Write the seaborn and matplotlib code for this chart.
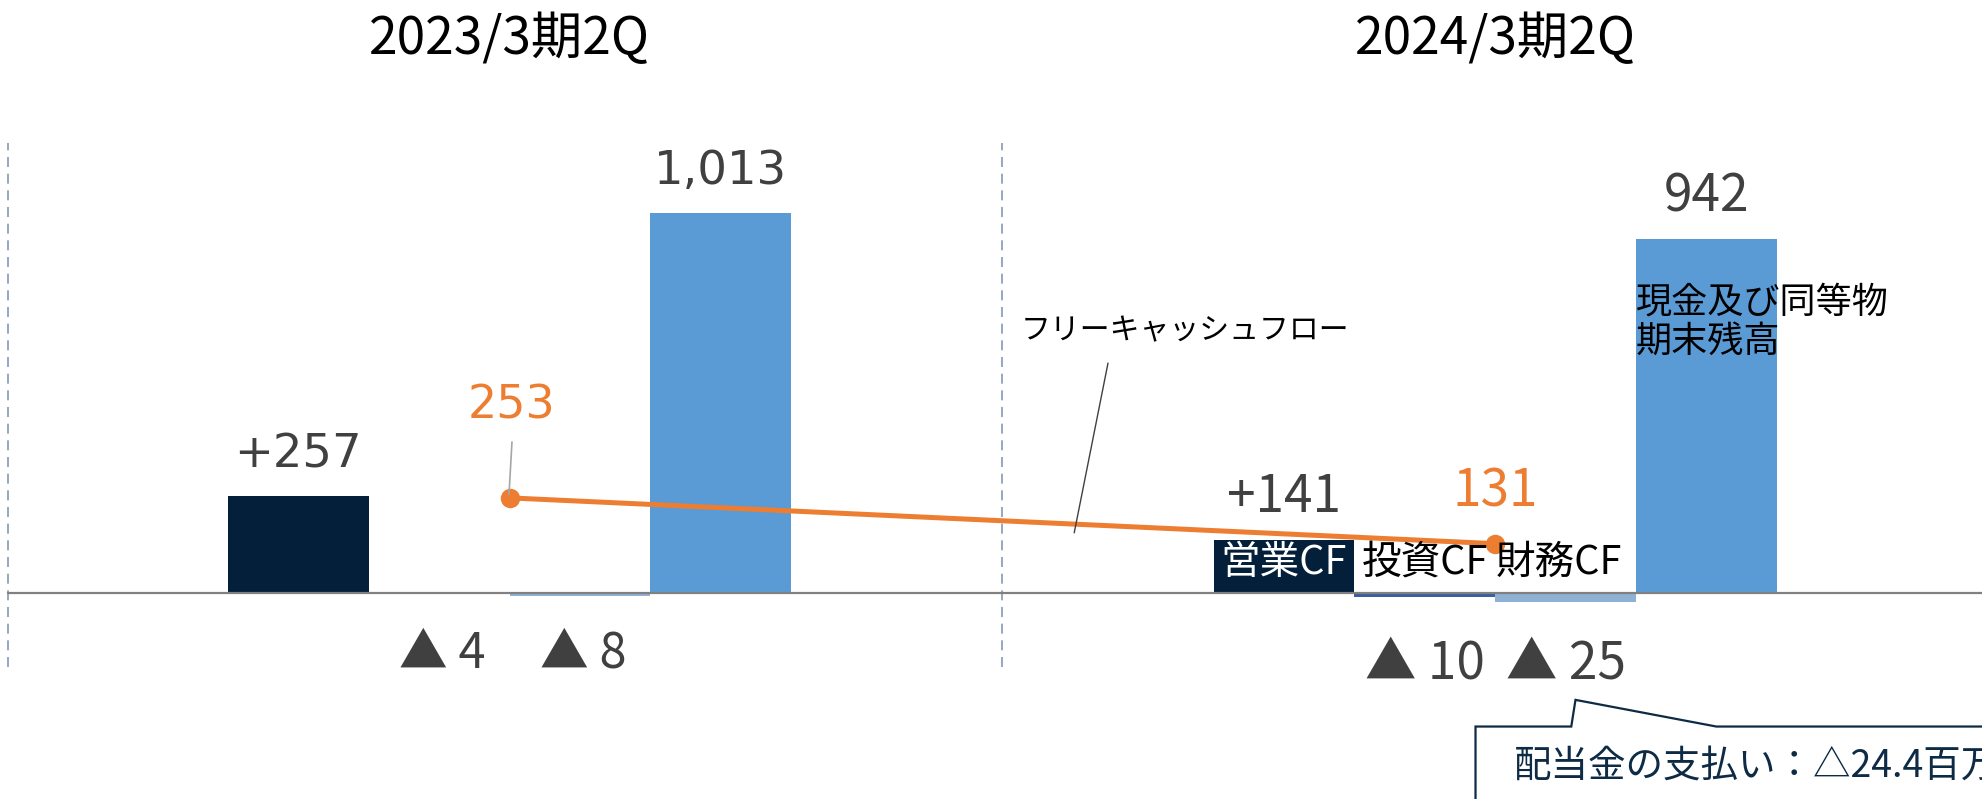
import numpy as np
import pandas as pd
import matplotlib
matplotlib.use("Agg")
import matplotlib.pyplot as plt
import seaborn as sns
from matplotlib.patches import Polygon

# ---------------- data ----------------
periods = ["2023/3期2Q", "2024/3期2Q"]
categories = ["営業CF", "投資CF", "財務CF", "現金及び同等物期末残高"]
values_2023 = [257, -4, -8, 1013]
values_2024 = [141, -10, -25, 942]
labels_2023 = ["+257", "▲ 4", "▲ 8", "1,013"]
labels_2024 = ["+141", "▲ 10", "▲ 25", "942"]
fcf_values = [253, 131]
fcf_labels = ["253", "131"]
fcf_name = "フリーキャッシュフロー"
cash_label = "現金及び同等物\n期末残高"
dividend_note = "配当金の支払い：△24.4百万円"

colors = {"営業CF": "#031F3A", "投資CF": "#3A5E9E",
          "財務CF": "#8FB1D3", "現金及び同等物期末残高": "#5B9BD5"}
orange = "#ED7D31"
text_grey = "#404040"

# ---------------- layout ----------------
group_gap = 7  # slots per period
rows = []
for g, vals in enumerate([values_2023, values_2024]):
    for i, (c, v) in enumerate(zip(categories, vals)):
        rows.append({"period": periods[g], "category": c,
                     "pos": g * group_gap + i, "value": v})
df = pd.DataFrame(rows)
fcf_df = pd.DataFrame({"pos": [g * group_gap + 1.5 for g in range(2)],
                       "fcf": fcf_values})

sns.set_theme(style="white")
plt.rcParams["font.family"] = ["Noto Sans CJK JP", "DejaVu Sans"]

fig = plt.figure(figsize=(19.82, 7.99), dpi=100)
ax = fig.add_axes([0, 0, 1, 1])

sns.barplot(data=df, x="pos", y="value", hue="category", palette=colors,
            native_scale=True, width=1.0, dodge=False, legend=False,
            saturation=1, linewidth=0, ax=ax, zorder=2)

sns.lineplot(data=fcf_df, x="pos", y="fcf", color=orange, lw=3.6,
             marker="o", markersize=14, markeredgewidth=0, ax=ax, zorder=5)

ax.set_xlim(-2.119, 11.957)
ax.set_ylim(-549, 1579)
ax.axis("off")

# baseline
ax.plot([-2.06, 12.5], [0, 0], color="#808080", lw=1.6, zorder=4)
# dashed period separators
for xs in [-2.06, 5.0]:
    ax.plot([xs, xs], [-197, 1197], color="#8399B5", lw=1.2,
            linestyle=(0, (6, 4)), zorder=1)

# period titles
for g, p in enumerate(periods):
    ax.text(g * group_gap + 1.5, 1474, p, ha="center", va="center",
            fontsize=37, color="black")

# value labels 2023 (DejaVu-like)
dv = ["DejaVu Sans", "Noto Sans CJK JP"]
nj = ["Noto Sans CJK JP", "DejaVu Sans"]
ax.text(0, 335, labels_2023[0], ha="center", va="baseline", fontsize=33.5,
        color=text_grey, family=dv)
ax.text(1.02, -199, labels_2023[1], ha="center", va="baseline", fontsize=35,
        color=text_grey, family=nj)
ax.text(2.02, -199, labels_2023[2], ha="center", va="baseline", fontsize=35,
        color=text_grey, family=nj)
ax.text(3, 1090, labels_2023[3], ha="center", va="baseline", fontsize=33.5,
        color=text_grey, family=dv)
ax.text(1.5 + 0.015, 465, fcf_labels[0], ha="center", va="baseline",
        fontsize=33, color=orange, family=dv)
ax.plot([1.517, 1.496], [402, 262], color="#A6A6A6", lw=1.2, zorder=6)

# value labels 2024
o = group_gap
ax.text(o + 0, 215, labels_2024[0], ha="center", va="baseline", fontsize=37,
        color=text_grey, family=nj)
ax.text(o + 1, -229, labels_2024[1], ha="center", va="baseline", fontsize=37,
        color=text_grey, family=nj)
ax.text(o + 2, -229, labels_2024[2], ha="center", va="baseline", fontsize=37,
        color=text_grey, family=nj)
ax.text(o + 3, 1016, labels_2024[3], ha="center", va="baseline", fontsize=37,
        color=text_grey, family=nj)
ax.text(o + 1.5, 231, fcf_labels[1], ha="center", va="baseline",
        fontsize=37, color=orange, family=nj)

# category labels in 2024 group
ax.text(o + 0, 80, categories[0], ha="center", va="center", fontsize=28.5,
        color="white", zorder=7)
ax.text(o + 1, 80, categories[1], ha="center", va="center", fontsize=28.5,
        color="black", zorder=7)
ax.text(o + 1.95, 80, categories[2], ha="center", va="center", fontsize=28.5,
        color="black", zorder=7)
ax.text(o + 2.5, 822, cash_label, ha="left", va="top", fontsize=26,
        color="black", linespacing=1.12, zorder=7)

# free cash flow annotation
ax.text(6.30, 697, fcf_name, ha="center", va="center", fontsize=21.5,
        color="black")
ax.plot([5.75, 5.51], [612, 160], color="#404040", lw=1.0, zorder=6)

# dividend callout
callout = Polygon([(8.36, -700), (8.36, -356), (9.04, -356), (9.07, -285),
                   (10.07, -356), (13.5, -356), (13.5, -700)],
                  closed=True, facecolor="white", edgecolor="#0D2B45",
                  lw=1.6, zorder=8)
ax.add_patch(callout)
ax.text(8.63, -462, dividend_note, ha="left", va="center", fontsize=27,
        color="#0D2B45", zorder=9)

fig.savefig("out.png", dpi=100)
